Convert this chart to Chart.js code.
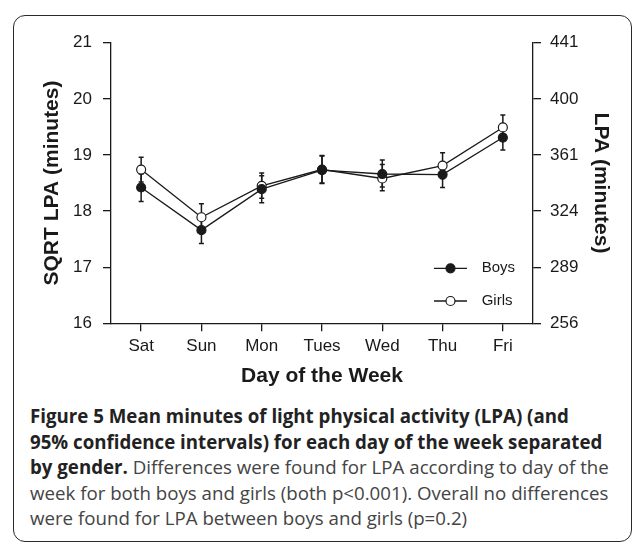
<!DOCTYPE html>
<html>
<head>
<meta charset="utf-8">
<script src="https://cdn.jsdelivr.net/npm/chart.js@4.4.0/dist/chart.umd.min.js"></script>
<style>
  html, body { margin: 0; padding: 0; background: #fff; }
  body { width: 635px; height: 547px; position: relative; overflow: hidden; }
  #frame {
    position: absolute; left: 13px; top: 15px; width: 617px; height: 525px;
    border: 1.5px solid #2a2a2a; border-radius: 12px;
  }
  #chart { position: absolute; left: 0; top: 0; }
  #caption {
    position: absolute; left: 30px; top: 403px; width: 600px;
    font-family: "Open Sans", sans-serif; font-size: 18.7px; line-height: 25.5px;
    color: #444; white-space: nowrap;
  }
  #caption b { color: #222; font-weight: 700; }
</style>
</head>
<body>
<div id="frame"></div>
<canvas id="chart" width="635" height="400"></canvas>
<div id="caption">
  <b>Figure 5 Mean minutes of light physical activity (LPA) (and<br>
  95% confidence intervals) for each day of the week separated<br>
  by gender.</b> Differences were found for LPA according to day of the<br>
  week for both boys and girls (both p&lt;0.001). Overall no differences<br>
  were found for LPA between boys and girls (p=0.2)
</div>
<script>
const days = ["Sat", "Sun", "Mon", "Tues", "Wed", "Thu", "Fri"];

// sqrt of LPA minutes, means and 95% CI ends
const boys = [18.42, 17.66, 18.39, 18.73, 18.66, 18.65, 19.31];
const boysLow = [18.17, 17.42, 18.15, 18.49, 18.43, 18.42, 19.09];
const boysHigh = [18.66, 17.90, 18.63, 18.98, 18.83, 18.88, 19.53];

const girls = [18.74, 17.89, 18.45, 18.74, 18.58, 18.81, 19.49];
const girlsLow = [18.52, 17.66, 18.23, 18.50, 18.36, 18.58, 19.27];
const girlsHigh = [18.96, 18.13, 18.68, 18.99, 18.91, 19.04, 19.71];

const sqrtTicks = [16, 17, 18, 19, 20, 21];
const lpaTicks = [256, 289, 324, 361, 400, 441];

const ink = "#1a1a1a";
const fontFamily = "'Liberation Sans', Arial, Helvetica, sans-serif";

// vertical CI bars with small caps, drawn under the lines
const errorBars = {
  id: "errorBars",
  beforeDatasetsDraw(chart) {
    const { ctx } = chart;
    const x = chart.scales.x;
    const y = chart.scales.y;
    ctx.save();
    ctx.strokeStyle = ink;
    ctx.lineWidth = 1.5;
    chart.data.datasets.forEach((ds) => {
      ds.low.forEach((lo, i) => {
        const px = x.getPixelForValue(i);
        const y0 = y.getPixelForValue(lo);
        const y1 = y.getPixelForValue(ds.high[i]);
        ctx.beginPath();
        ctx.moveTo(px, y0);
        ctx.lineTo(px, y1);
        ctx.moveTo(px - 2.5, y0);
        ctx.lineTo(px + 2.5, y0);
        ctx.moveTo(px - 2.5, y1);
        ctx.lineTo(px + 2.5, y1);
        ctx.stroke();
      });
    });
    ctx.restore();
  },
};

// legend inside the plot, line with marker in the middle
const insideLegend = {
  id: "insideLegend",
  afterDatasetsDraw(chart, args, opts) {
    const { ctx } = chart;
    ctx.save();
    ctx.font = "15px " + fontFamily;
    ctx.textBaseline = "middle";
    chart.data.datasets.forEach((ds, i) => {
      const y = opts.y + i * opts.gap;
      ctx.strokeStyle = ds.borderColor;
      ctx.lineWidth = ds.borderWidth;
      ctx.beginPath();
      ctx.moveTo(opts.x0, y);
      ctx.lineTo(opts.x1, y);
      ctx.stroke();
      ctx.beginPath();
      ctx.arc((opts.x0 + opts.x1) / 2, y, ds.pointRadius, 0, Math.PI * 2);
      ctx.fillStyle = ds.pointBackgroundColor;
      ctx.fill();
      ctx.lineWidth = ds.pointBorderWidth;
      ctx.strokeStyle = ds.pointBorderColor;
      ctx.stroke();
      ctx.fillStyle = ink;
      ctx.fillText(ds.label, opts.textX, y);
    });
    ctx.restore();
  },
};

const tickFont = { family: fontFamily, size: 17 };
const titleFont = { family: fontFamily, size: 21, weight: "bold" };

new Chart(document.getElementById("chart"), {
  type: "line",
  data: {
    labels: days,
    datasets: [
      {
        label: "Boys",
        data: boys,
        low: boysLow,
        high: boysHigh,
        borderColor: ink,
        borderWidth: 1.3,
        pointRadius: 4.5,
        pointBackgroundColor: ink,
        pointBorderColor: ink,
        pointBorderWidth: 1.2,
        tension: 0,
      },
      {
        label: "Girls",
        data: girls,
        low: girlsLow,
        high: girlsHigh,
        borderColor: ink,
        borderWidth: 1.3,
        pointRadius: 4.5,
        pointBackgroundColor: "#ffffff",
        pointBorderColor: ink,
        pointBorderWidth: 1.2,
        tension: 0,
      },
    ],
  },
  options: {
    responsive: false,
    animation: false,
    layout: {
      padding: { left: 39.4, right: 21.6, top: 42.7, bottom: 10.7 },
    },
    plugins: {
      legend: { display: false },
      tooltip: { enabled: false },
      insideLegend: { x0: 434, x1: 467, y: 268.3, gap: 32.7, textX: 481.7 },
    },
    scales: {
      x: {
        type: "category",
        offset: true,
        border: { display: true, color: ink, width: 1.3 },
        grid: { drawOnChartArea: false, tickLength: 8, color: ink, lineWidth: 1.3 },
        ticks: { color: ink, font: tickFont, padding: 5, maxRotation: 0 },
        title: {
          display: true,
          text: "Day of the Week",
          color: ink,
          font: titleFont,
          padding: 0,
        },
        afterFit(scale) {
          scale.height = 66;
        },
      },
      y: {
        position: "left",
        min: 16,
        max: 21,
        border: { display: true, color: ink, width: 1.3 },
        grid: { drawOnChartArea: false, tickLength: 8, color: ink, lineWidth: 1.3 },
        ticks: { stepSize: 1, color: ink, font: tickFont, padding: 11 },
        title: {
          display: true,
          text: "SQRT LPA (minutes)",
          color: ink,
          font: titleFont,
          padding: 0,
        },
        afterFit(scale) {
          scale.width = 71.6;
        },
      },
      y2: {
        position: "right",
        min: 16,
        max: 21,
        border: { display: true, color: ink, width: 1.3 },
        grid: { drawOnChartArea: false, tickLength: 8, color: ink, lineWidth: 1.3 },
        ticks: {
          stepSize: 1,
          color: ink,
          font: tickFont,
          padding: 9,
          callback: (v) => lpaTicks[sqrtTicks.indexOf(v)],
        },
        title: {
          display: true,
          text: "LPA (minutes)",
          color: ink,
          font: titleFont,
          padding: 0,
        },
        afterFit(scale) {
          scale.width = 80.4;
        },
      },
    },
  },
  plugins: [errorBars, insideLegend],
});
</script>
</body>
</html>
